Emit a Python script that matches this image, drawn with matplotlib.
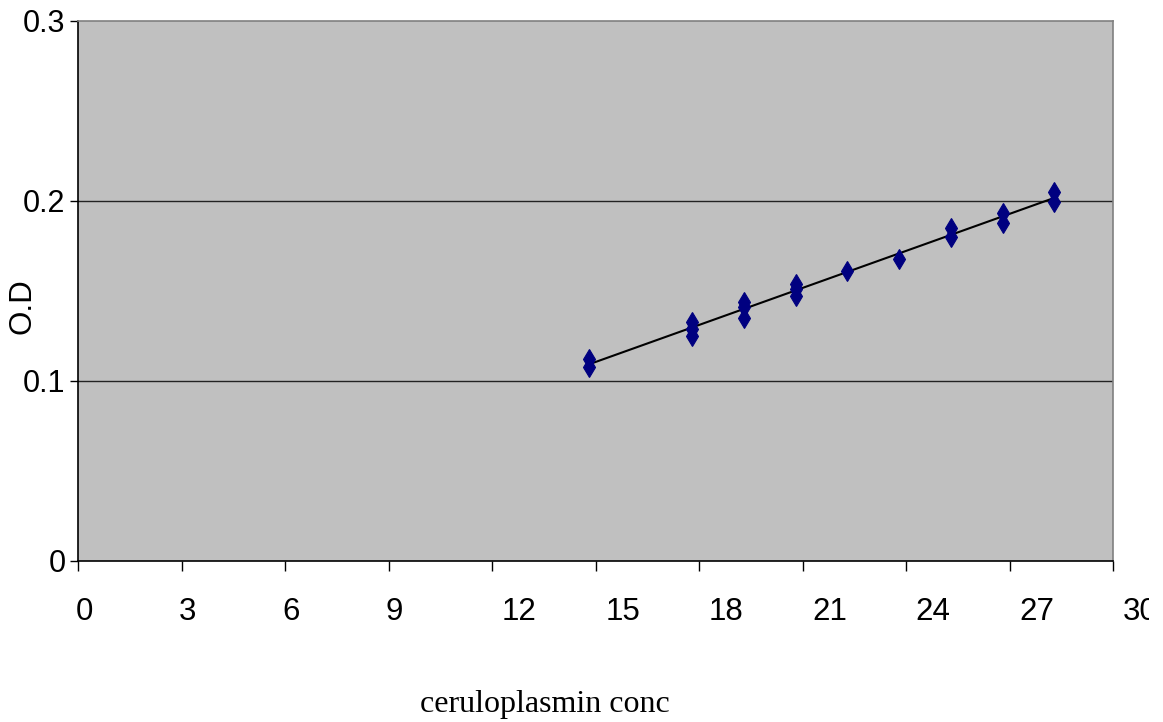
import numpy as np
import matplotlib
matplotlib.use("Agg")
import matplotlib.pyplot as plt
from matplotlib.transforms import ScaledTranslation, Bbox

# Data
conc = [14.8, 14.8,
        17.8, 17.8, 17.8,
        19.3, 19.3, 19.3,
        20.8, 20.8, 20.8,
        22.3,
        23.8,
        25.3, 25.3,
        26.8, 26.8,
        28.3, 28.3]
od = [0.112, 0.108,
      0.133, 0.129, 0.125,
      0.144, 0.141, 0.135,
      0.154, 0.151, 0.147,
      0.161,
      0.168,
      0.185, 0.180,
      0.1935, 0.188,
      0.205, 0.1995]
x_ticks = [0, 3, 6, 9, 12, 15, 18, 21, 24, 27, 30]
y_ticks = [0, 0.1, 0.2, 0.3]
y_tick_labels = ["0", "0.1", "0.2", "0.3"]

plt.rcParams['font.family'] = ['Liberation Sans', 'DejaVu Sans']

W, H = 1163, 722
fig = plt.figure(figsize=(W / 100, H / 100), dpi=100)
ax = fig.add_axes([78 / W, 1 - 561 / H, 1035 / W, 540 / H])
ax.set_facecolor('#C0C0C0')

ax.set_xlim(0, 30)
ax.set_ylim(0, 0.3)

for yv in y_ticks[1:3]:
    ax.axhline(yv, color='#222222', lw=1.0, zorder=1)

xs = np.array(conc)
ys = np.array(od)
m, b = np.polyfit(xs, ys, 1)
xl = np.array([xs.min(), xs.max()])
ax.plot(xl, m * xl + b, color='black', lw=1.5, zorder=2)

ax.plot(xs, ys, linestyle='none', marker='d', markersize=10,
        markerfacecolor='#000080', markeredgecolor='#000080',
        markeredgewidth=0.8, zorder=3)

ax.set_xticks(x_ticks)
ax.set_xticklabels([str(v) for v in x_ticks])
ax.set_yticks(y_ticks)
ax.set_yticklabels(y_tick_labels)

ax.tick_params(axis='x', direction='out', length=7, width=1, color='black',
               labelsize=22.5, pad=19)
ax.tick_params(axis='y', direction='out', length=6, width=1, color='black',
               labelsize=22, pad=3)

clip = Bbox([[0, 0], [1149, H]])
for lab, v in zip(ax.get_xticklabels(), x_ticks):
    dx = 6 if v < 10 else 27
    lab.set_transform(lab.get_transform() + ScaledTranslation(dx / 100, 0, fig.dpi_scale_trans))
    lab.set_clip_box(clip)
    lab.set_clip_on(True)

for s in ['left', 'bottom']:
    ax.spines[s].set_color('black')
    ax.spines[s].set_linewidth(1.2)
for s in ['top', 'right']:
    ax.spines[s].set_color('#808080')
    ax.spines[s].set_linewidth(1.2)

fig.text(23 / W, 1 - 306 / H, 'O.D', rotation=90, ha='center', va='center',
         fontsize=22.5)
fig.text(545 / W, 1 - 712 / H, 'ceruloplasmin conc', ha='center', va='baseline',
         fontsize=23, family=['Liberation Serif', 'DejaVu Serif'])

fig.savefig('out.png', dpi=100)
